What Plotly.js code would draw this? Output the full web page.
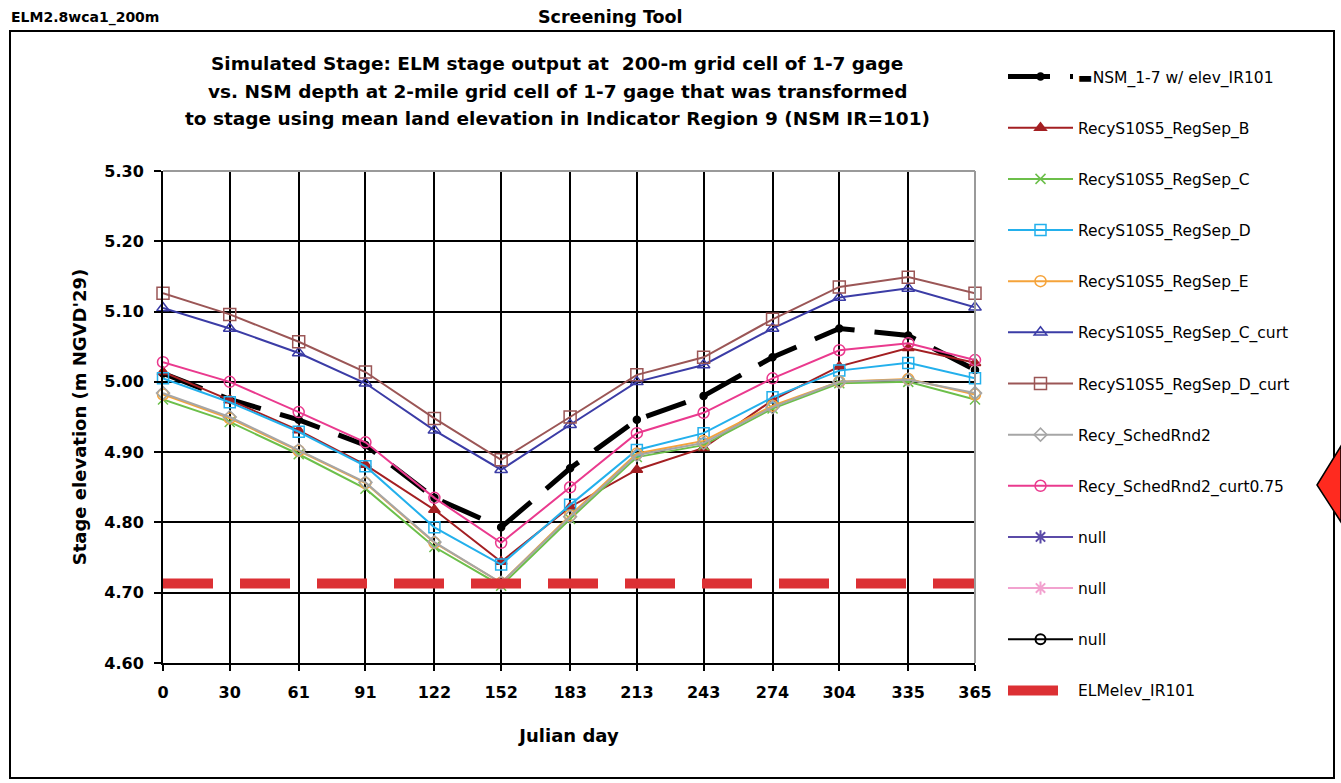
<!DOCTYPE html>
<html>
<head>
<meta charset="utf-8">
<script src="https://cdn.plot.ly/plotly-3.0.1.min.js"></script>
<style>html,body{margin:0;padding:0;background:#fff;}#chart{width:1341px;height:783px;}</style>
</head>
<body>
<div id="chart"></div>
<script>
// ---- data ----
const julianDays = [0, 30, 61, 91, 122, 152, 183, 213, 243, 274, 304, 335, 365];
const tickLabels = ["0", "30", "61", "91", "122", "152", "183", "213", "243", "274", "304", "335", "365"];
const yTickVals = [4.6, 4.7, 4.8, 4.9, 5.0, 5.1, 5.2, 5.3];

const nsmStage      = [5.012, 4.975, 4.946, 4.910, 4.835, 4.793, 4.877, 4.946, 4.980, 5.035, 5.076, 5.066, 5.017];
const regSepB       = [5.014, 4.974, 4.931, 4.882, 4.818, 4.744, 4.822, 4.875, 4.906, 4.974, 5.022, 5.048, 5.027];
const regSepC       = [4.975, 4.943, 4.897, 4.848, 4.765, 4.710, 4.805, 4.893, 4.910, 4.962, 4.998, 5.000, 4.975];
const regSepD       = [5.005, 4.971, 4.929, 4.880, 4.793, 4.740, 4.825, 4.903, 4.927, 4.978, 5.016, 5.027, 5.005];
const regSepE       = [4.982, 4.948, 4.902, 4.856, 4.771, 4.714, 4.810, 4.898, 4.916, 4.966, 5.000, 5.004, 4.982];
const regSepCcurt   = [5.105, 5.076, 5.041, 4.998, 4.931, 4.875, 4.939, 5.000, 5.024, 5.076, 5.120, 5.133, 5.106];
const regSepDcurt   = [5.126, 5.096, 5.057, 5.014, 4.948, 4.889, 4.950, 5.010, 5.035, 5.089, 5.135, 5.149, 5.126];
const schedRnd2     = [4.984, 4.950, 4.903, 4.857, 4.772, 4.714, 4.808, 4.896, 4.913, 4.964, 5.000, 5.003, 4.984];
const schedRnd2Curt = [5.028, 5.000, 4.957, 4.914, 4.835, 4.771, 4.850, 4.927, 4.956, 5.005, 5.045, 5.055, 5.031];
const elmElevX = [0, 365];
const elmElevY = [4.713, 4.713];

const seriesNames = [
  "\u25AC" + "NSM_1-7 w/ elev_IR101",
  "RecyS10S5_RegSep_B",
  "RecyS10S5_RegSep_C",
  "RecyS10S5_RegSep_D",
  "RecyS10S5_RegSep_E",
  "RecyS10S5_RegSep_C_curt",
  "RecyS10S5_RegSep_D_curt",
  "Recy_SchedRnd2",
  "Recy_SchedRnd2_curt0.75",
  "null", "null", "null",
  "ELMelev_IR101"
];

function line(i, y, color, symbol, msize, extra) {
  return Object.assign({
    type: "scatter", mode: "lines+markers", name: seriesNames[i],
    x: julianDays, y: y, cliponaxis: false,
    line: {color: color, width: 2},
    marker: {symbol: symbol, size: msize, color: color, line: {color: color, width: 1.5}},
    legendgroup: "g" + i
  }, extra || {});
}
function emptySeries(i, color, symbol, msize) {
  return {type: "scatter", mode: "lines+markers", name: seriesNames[i], x: [null], y: [null],
    line: {color: color, width: 2},
    marker: {symbol: symbol, size: msize, color: color, line: {color: color, width: 2}},
    legendgroup: "g" + i};
}

const traces = [
  line(0, nsmStage, "#000000", "circle", 7, {line: {color: "#000000", width: 5, dash: "42px,20px"}}),
  line(1, regSepB, "#A31F22", "triangle-up", 10),
  line(2, regSepC, "#6CBF4A", "x-thin-open", 10),
  line(3, regSepD, "#23B0EC", "square-open", 11),
  line(4, regSepE, "#F5A33A", "circle-open", 11),
  line(5, regSepCcurt, "#3B3CA6", "triangle-up-open", 11),
  line(6, regSepDcurt, "#9B5656", "square-open", 12),
  line(7, schedRnd2, "#A6A6A6", "diamond-open", 10),
  line(8, schedRnd2Curt, "#EA3A8E", "circle-open", 11),
  emptySeries(9, "#5B4BA8", "asterisk-open", 11),
  emptySeries(10, "#F2A2CF", "asterisk-open", 11),
  emptySeries(11, "#000000", "circle-open", 10),
  {type: "scatter", mode: "lines", name: seriesNames[12], x: elmElevX, y: elmElevY, cliponaxis: false,
   line: {color: "#DC3034", width: 10, dash: "50px,27px"}, legendgroup: "g12"}
];

// plot area in px: x 163..975, y 171..663
const L = 163, R = 975, T = 171, B = 663;
const px = v => (v - L) / (R - L);
const py = v => (B - v) / (B - T);
const FONT = "DejaVu Sans, Arial, sans-serif";

const layout = {
  width: 1341, height: 783,
  margin: {l: L, r: 1341 - R, t: T, b: 783 - B},
  paper_bgcolor: "#ffffff", plot_bgcolor: "#ffffff",
  font: {family: FONT, color: "#000"},
  showlegend: true,
  legend: {
    x: px(1003), y: py(60), xanchor: "left", yanchor: "top",
    font: {family: FONT, size: 15.5, color: "#000"},
    tracegroupgap: 28, itemwidth: 65, bgcolor: "rgba(0,0,0,0)", maxheight: 760
  },
  xaxis: {
    range: [0, 365], tickmode: "array", tickvals: julianDays, ticktext: tickLabels,
    showgrid: true, gridcolor: "#000", gridwidth: 2,
    showline: true, linecolor: "#000", linewidth: 2, zeroline: false,
    ticks: "outside", ticklen: 6, tickwidth: 2, tickcolor: "#000",
    ticklabelstandoff: 8,
    tickfont: {family: FONT, size: 16, weight: "bold"},
    title: {text: "<b>Julian day</b>", font: {family: FONT, size: 18}, standoff: 28}
  },
  yaxis: {
    range: [4.6, 5.3], tickmode: "array", tickvals: yTickVals,
    tickformat: ".2f",
    showgrid: true, gridcolor: "#000", gridwidth: 2,
    showline: true, linecolor: "#000", linewidth: 2, zeroline: false,
    ticks: "outside", ticklen: 7, tickwidth: 2, tickcolor: "#000",
    ticklabelstandoff: 7,
    tickfont: {family: FONT, size: 16, weight: "bold"},
    title: {text: "<b>Stage elevation (m NGVD'29)</b>", font: {family: FONT, size: 18}, standoff: 13}
  },
  shapes: [
    {type: "rect", xref: "paper", yref: "paper", x0: px(10), x1: px(1334), y0: py(778), y1: py(31), line: {color: "#000", width: 2}, fillcolor: "rgba(0,0,0,0)", layer: "below"},
    {type: "line", xref: "paper", yref: "paper", x0: 0, x1: 1, y0: 1, y1: 1, line: {color: "#9a9a9a", width: 2}},
    {type: "line", xref: "paper", yref: "paper", x0: 1, x1: 1, y0: 0, y1: 1, line: {color: "#9a9a9a", width: 2}},
    {type: "path", xref: "paper", yref: "paper",
     path: "M" + px(1317) + "," + py(485) + " L" + px(1341) + "," + py(446) + " L" + px(1341) + "," + py(522) + " Z",
     fillcolor: "#FF2A1F", line: {color: "#000", width: 1.5}}
  ],
  annotations: [
    {xref: "paper", yref: "paper", x: px(9), y: py(17), xanchor: "left", yanchor: "middle", showarrow: false,
     text: "<b>ELM2.8wca1_200m</b>", font: {size: 14}},
    {xref: "paper", yref: "paper", x: px(610), y: py(17), xanchor: "center", yanchor: "middle", showarrow: false,
     text: "<b>Screening Tool</b>", font: {size: 17.5}},
    {xref: "paper", yref: "paper", x: px(557), y: py(64), xanchor: "center", yanchor: "middle", showarrow: false,
     text: "<b>Simulated Stage: ELM stage output at  200-m grid cell of 1-7 gage</b>", font: {size: 18.5}},
    {xref: "paper", yref: "paper", x: px(557), y: py(91), xanchor: "center", yanchor: "middle", showarrow: false,
     text: "<b>vs. NSM depth at 2-mile grid cell of 1-7 gage that was transformed</b>", font: {size: 18.5}},
    {xref: "paper", yref: "paper", x: px(557), y: py(118), xanchor: "center", yanchor: "middle", showarrow: false,
     text: "<b>to stage using mean land elevation in Indicator Region 9 (NSM IR=101)</b>", font: {size: 18.5}}
  ]
};

Plotly.newPlot("chart", traces, layout, {displayModeBar: false, staticPlot: true});
</script>
</body>
</html>
